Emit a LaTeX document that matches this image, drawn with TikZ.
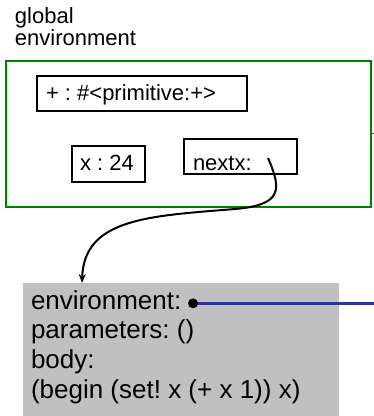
\documentclass[tikz,border=0pt]{standalone}
\usepackage{fontspec}
\setmainfont{Liberation Sans}
\usetikzlibrary{arrows.meta}
\definecolor{envgreen}{RGB}{0,128,0}
\definecolor{closuregray}{RGB}{192,192,192}
\definecolor{ptrblue}{RGB}{51,51,153}
\frenchspacing
\begin{document}
\begin{tikzpicture}[x=1pt,y=-1pt,
  frame/.style={draw, line width=2pt, anchor=north west, inner sep=0pt, outer sep=0pt},
  bindbox/.style={draw, line width=1.8pt, anchor=north west, inner sep=0pt, outer sep=0pt},
  txt/.style={anchor=base west, inner sep=0pt, outer sep=0pt, font=\frenchspacing\fontsize{22}{22}\selectfont},
  bigtxt/.style={anchor=base west, inner sep=0pt, outer sep=0pt, font=\frenchspacing\fontsize{26}{26}\selectfont},
  ptr/.style={line width=2pt, -{Stealth[length=9pt,width=7pt]}}
]
\useasboundingbox (0,0) rectangle (374,416);
% title
\node[txt] (t1) at (15,23) {global};
\node[txt] (t2) at (15,45.5) {environment};
% global environment frame
\node[frame, draw=envgreen, minimum width=365pt, minimum height=146pt] (genv) at (6,61) {};
% bindings
\node[bindbox, minimum width=210pt, minimum height=35pt] (plusbox) at (37,76) {};
\node[txt] (plustxt) at (46,100) {+ : \#<primitive:+>};
\node[bindbox, minimum width=73pt, minimum height=36pt] (xbox) at (72,146) {};
\node[txt] (xtxt) at (80,170) {x : 24};
\node[bindbox, minimum width=113pt, minimum height=35pt] (nbox) at (184,139) {};
\node[txt] (ntxt) at (193,170.5) {nextx:};
% closure object
\node[fill=closuregray, anchor=north west, inner sep=0pt, minimum width=316pt, minimum height=133pt] (clos) at (23,283) {};
\node[bigtxt] (c1) at (31,309) {environment:};
\node[bigtxt] (c2) at (31,338.8) {parameters: ()};
\node[bigtxt] (c3) at (31,368.4) {body:};
\node[bigtxt] (c4) at (31,398) {(begin (set! x (+ x 1)) x)};
% pointers
\coordinate (nptr) at (268,158);
\coordinate (arrend) at (82,283);
\draw[ptr] (nptr) .. controls (282,190) and (282,205) .. (235,209)
  .. controls (150,216) and (84,218) .. (arrend);
\coordinate (edot) at (193,303.3);
\coordinate (eend) at (374,303.3);
\draw[ptrblue, line width=2.5pt] (edot) -- (eend);
\fill (edot) circle (5pt);
\coordinate (tickA) at (371.5,133.5);
\coordinate (tickB) at (374,133.5);
\draw[ptrblue, line width=1.5pt] (tickA) -- (tickB);
\end{tikzpicture}
\end{document}
